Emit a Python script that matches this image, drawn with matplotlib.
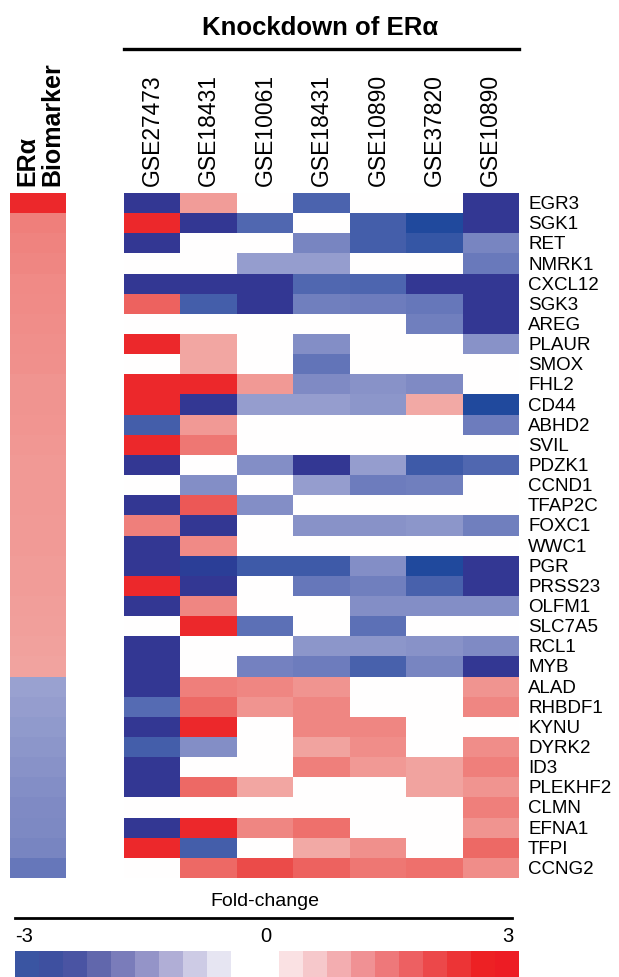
import numpy as np
import matplotlib
matplotlib.use("Agg")
import matplotlib.pyplot as plt
from matplotlib.colors import LinearSegmentedColormap, ListedColormap

plt.rcParams['font.family'] = ['Liberation Sans', 'DejaVu Sans']

W, H = 619, 977

datasets = ["GSE27473", "GSE18431", "GSE10061", "GSE18431",
            "GSE10890", "GSE37820", "GSE10890"]

genes = ["EGR3", "SGK1", "RET", "NMRK1", "CXCL12", "SGK3", "AREG", "PLAUR",
         "SMOX", "FHL2", "CD44", "ABHD2", "SVIL", "PDZK1", "CCND1", "TFAP2C",
         "FOXC1", "WWC1", "PGR", "PRSS23", "OLFM1", "SLC7A5", "RCL1", "MYB",
         "ALAD", "RHBDF1", "KYNU", "DYRK2", "ID3", "PLEKHF2", "CLMN", "EFNA1",
         "TFPI", "CCNG2"]

# ERa biomarker score per gene
biomarker = [3.0, 1.8, 1.75, 1.7, 1.65, 1.62, 1.6, 1.58, 1.55, 1.52, 1.5,
             1.48, 1.46, 1.45, 1.44, 1.43, 1.42, 1.41, 1.4, 1.39, 1.38, 1.35,
             1.32, 1.3, -1.2, -1.25, -1.3, -1.35, -1.4, -1.45, -1.5, -1.52,
             -1.55, -1.8]

# fold-change after ERa knockdown (0 = not significant)
fold_change = [
    [-3.0, 1.4, 0, -2.2, 0, 0, -3.0],          # EGR3
    [3.0, -3.0, -2.1, 0, -2.3, -2.75, -3.0],   # SGK1
    [-3.0, 0, 0, -1.55, -2.3, -2.5, -1.55],    # RET
    [0, 0, -1.25, -1.25, 0, 0, -1.75],         # NMRK1
    [-3.0, -3.0, -3.0, -2.1, -2.15, -3.0, -3.0],  # CXCL12
    [2.2, -2.3, -3.0, -1.65, -1.7, -1.8, -3.0],   # SGK3
    [0, 0, 0, 0, 0, -1.65, -3.0],              # AREG
    [3.0, 1.25, 0, -1.45, 0, 0, -1.4],         # PLAUR
    [0, 1.25, 0, -1.85, 0, 0, 0],              # SMOX
    [3.0, 3.0, 1.45, -1.5, -1.4, -1.5, 0],     # FHL2
    [3.0, -3.0, -1.25, -1.25, -1.35, 1.2, -2.75],  # CD44
    [-2.3, 1.45, 0, 0, 0, 0, -1.7],            # ABHD2
    [3.0, 1.9, 0, 0, 0, 0, 0],                 # SVIL
    [-3.0, 0, -1.45, -3.0, -1.25, -2.4, -2.1], # PDZK1
    [0, -1.45, 0, -1.25, -1.7, -1.65, 0],      # CCND1
    [-3.0, 2.3, -1.45, 0, 0, 0, 0],            # TFAP2C
    [1.8, -3.0, 0, -1.4, -1.4, -1.35, -1.65],  # FOXC1
    [-3.0, 1.65, 0, 0, 0, 0, 0],               # WWC1
    [-3.0, -2.9, -2.4, -2.4, -1.45, -2.75, -3.0],  # PGR
    [3.0, -3.0, 0, -1.8, -1.65, -2.25, -3.0],  # PRSS23
    [-3.0, 1.7, 0, 0, -1.45, -1.45, -1.45],    # OLFM1
    [0, 3.0, -1.9, 0, -1.9, 0, 0],             # SLC7A5
    [-3.0, 0, 0, -1.35, -1.35, -1.4, -1.5],    # RCL1
    [-3.0, 0, -1.6, -1.7, -2.25, -1.55, -3.0], # MYB
    [-3.0, 1.8, 1.7, 1.5, 0, 0, 1.5],          # ALAD
    [-2.0, 2.1, 1.5, 1.7, 0, 0, 1.7],          # RHBDF1
    [-3.0, 3.0, 0, 1.7, 1.7, 0, 0],            # KYNU
    [-2.3, -1.45, 0, 1.3, 1.6, 0, 1.6],        # DYRK2
    [-3.0, 0, 0, 1.8, 1.45, 1.3, 1.8],         # ID3
    [-3.0, 2.1, 1.25, 0, 0, 1.3, 1.5],         # PLEKHF2
    [0, 0, 0, 0, 0, 0, 1.8],                   # CLMN
    [-3.0, 3.0, 1.7, 2.0, 0, 0, 1.5],          # EFNA1
    [3.0, -2.3, 0, 1.2, 1.55, 0, 2.1],         # TFPI
    [0, 2.1, 2.5, 2.2, 1.9, 2.0, 1.6],         # CCNG2
]

legend_steps = [-3.0, -2.7, -2.4, -2.1, -1.8, -1.5, -1.2, -0.9, -0.6, -0.3, 0,
                0.3, 0.6, 0.9, 1.2, 1.5, 1.8, 2.1, 2.4, 2.7, 3.0]
legend_colors = ["#3a55a2", "#3e50a0", "#4a54a3", "#6167ac", "#7a7cba",
                 "#9494c8", "#b0aed6", "#cdcbe5", "#e6e5f2", "#ffffff",
                 "#ffffff",
                 "#fae1e3", "#f6c8cb", "#f3adb0", "#f09194", "#ee787a",
                 "#ed6062", "#ec484a", "#ec3436", "#ed2124", "#ed1c24"]

heat_cmap = LinearSegmentedColormap.from_list("fc", [
    (0.0, "#333793"), (0.25 / 6, "#1f4a9e"), (0.6 / 6, "#3f5ba8"),
    (1.0 / 6, "#566bb3"), (1.4 / 6, "#7582c0"), (1.8 / 6, "#9aa2d0"),
    (2.4 / 6, "#d0d3ea"), (0.5, "#ffffff"), (3.6 / 6, "#f9dcdb"),
    (4.2 / 6, "#f2aaa6"), (4.6 / 6, "#f08e8a"), (5.0 / 6, "#ee716d"),
    (5.4 / 6, "#eb5250"), (1.0, "#ec282b")])


def fx(x):
    return x / W


def fy(y):
    return 1 - y / H


def box(x0, y0, x1, y1):
    return [fx(x0), fy(y1), fx(x1) - fx(x0), fy(y0) - fy(y1)]


fig = plt.figure(figsize=(W / 100, H / 100), dpi=100)

top, bottom = 193, 878
hx0, hx1 = 124, 519
n_rows = len(genes)

# heatmap
ax = fig.add_axes(box(hx0, top, hx1, bottom))
data = np.array(fold_change)
ax.pcolormesh(data, cmap=heat_cmap, vmin=-3, vmax=3)
ax.set_xlim(0, len(datasets))
ax.set_ylim(n_rows, 0)
ax.axis("off")

# biomarker strip
axb = fig.add_axes(box(10, top, 66, bottom))
axb.pcolormesh(np.array(biomarker).reshape(-1, 1), cmap=heat_cmap, vmin=-3, vmax=3)
axb.set_ylim(n_rows, 0)
axb.axis("off")

row_h = (bottom - top) / n_rows
for i, g in enumerate(genes):
    fig.text(fx(528), fy(top + (i + 0.5) * row_h + 1.5), g, fontsize=13.5,
             ha="left", va="center")

col_w = (hx1 - hx0) / len(datasets)
for j, d in enumerate(datasets):
    fig.text(fx(hx0 + (j + 0.5) * col_w), fy(186), d, fontsize=16.5,
             rotation=90, ha="center", va="bottom")

fig.text(fx(27), fy(186), "ERα", fontsize=18, fontweight="bold",
         rotation=90, ha="center", va="bottom")
fig.text(fx(52), fy(186), "Biomarker", fontsize=18, fontweight="bold",
         rotation=90, ha="center", va="bottom")

fig.text(fx(320), fy(28), "Knockdown of ERα", fontsize=18.5, fontweight="bold",
         ha="center", va="center")
fig.add_artist(plt.Line2D([fx(124), fx(519)], [fy(49), fy(49)],
                          color="black", lw=2.4))

# fold-change legend
fig.text(fx(265), fy(902), "Fold-change", fontsize=14, ha="center",
         va="center")
fig.add_artist(plt.Line2D([fx(15), fx(512)], [fy(918), fy(918)],
                          color="black", lw=2))
fig.text(fx(15), fy(937), "-3", fontsize=14.5, ha="left", va="center")
fig.text(fx(266), fy(937), "0", fontsize=14.5, ha="center", va="center")
fig.text(fx(513), fy(937), "3", fontsize=14.5, ha="right", va="center")

axl = fig.add_axes(box(15, 951, 519, 977))
axl.pcolormesh(np.array(legend_steps).reshape(1, -1),
               cmap=ListedColormap(legend_colors), vmin=-3.15, vmax=3.15)
axl.axis("off")

fig.savefig("out.png", dpi=100)
